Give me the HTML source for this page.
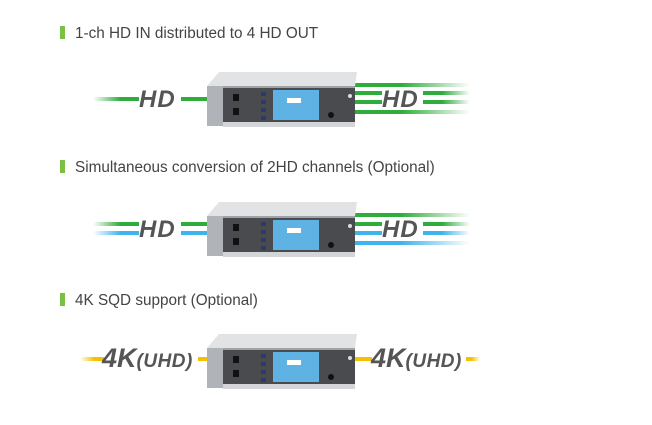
<!DOCTYPE html>
<html><head><meta charset="utf-8"><style>
html,body{margin:0;padding:0;background:#fff;width:652px;height:425px;overflow:hidden}
svg{display:block}
.h{font-family:"Liberation Sans",sans-serif;font-size:15.3px;fill:#444}
.b{font-family:"Liberation Sans",sans-serif;font-weight:bold;font-style:italic;fill:#555}
</style></head><body>
<svg width="652" height="425" viewBox="0 0 652 425">
<defs>
<linearGradient id="gl" x1="0" x2="1"><stop offset="0" stop-color="#2eac3c" stop-opacity="0"/><stop offset="0.6" stop-color="#2eac3c"/></linearGradient>
<linearGradient id="gr" x1="0" x2="1"><stop offset="0.4" stop-color="#2eac3c"/><stop offset="1" stop-color="#2eac3c" stop-opacity="0"/></linearGradient>
<linearGradient id="bl" x1="0" x2="1"><stop offset="0" stop-color="#3fb4ea" stop-opacity="0"/><stop offset="0.6" stop-color="#3fb4ea"/></linearGradient>
<linearGradient id="br" x1="0" x2="1"><stop offset="0.4" stop-color="#3fb4ea"/><stop offset="1" stop-color="#3fb4ea" stop-opacity="0"/></linearGradient>
<linearGradient id="yl" x1="0" x2="1"><stop offset="0" stop-color="#f5c000" stop-opacity="0"/><stop offset="0.6" stop-color="#f5c000"/></linearGradient>
<linearGradient id="yr" x1="0" x2="1"><stop offset="0.4" stop-color="#f5c000"/><stop offset="1" stop-color="#f5c000" stop-opacity="0"/></linearGradient>
<g id="dev">
<polygon points="0,14 12,0 150,0 148,14" fill="#e2e3e5"/>
<rect x="0" y="14" width="16" height="40" fill="#b0b3b7"/>
<rect x="16" y="14" width="132" height="40" fill="#4a4b4f"/>
<rect x="16" y="14" width="132" height="2" fill="#9fa2a6"/>
<rect x="16" y="50" width="132" height="5" fill="#d3d5d8"/>
<rect x="26" y="22" width="6" height="7" fill="#111"/>
<rect x="26" y="36" width="6" height="7" fill="#111"/>
<rect x="54" y="20" width="5" height="4" fill="#2a3a6a"/>
<rect x="54" y="28" width="5" height="4" fill="#2a3a6a"/>
<rect x="54" y="36" width="5" height="4" fill="#2a3a6a"/>
<rect x="54" y="44" width="5" height="4" fill="#2a3a6a"/>
<rect x="66" y="18" width="46" height="30" fill="#5fb3e4"/>
<rect x="80" y="26" width="14" height="5" fill="#fff"/>
<circle cx="124" cy="43" r="3" fill="#111"/>
<circle cx="143" cy="24" r="2" fill="#ddd"/>
</g>
</defs>

<rect x="60" y="26" width="5" height="13" fill="#7bc043"/>
<text class="h" x="75" y="38">1-ch HD IN distributed to 4 HD OUT</text>
<rect x="60" y="160" width="5" height="13" fill="#7bc043"/>
<text class="h" x="75" y="172">Simultaneous conversion of 2HD channels (Optional)</text>
<rect x="60" y="293" width="5" height="13" fill="#7bc043"/>
<text class="h" x="75" y="305">4K SQD support (Optional)</text>

<!-- section 1 -->
<rect x="93" y="97" width="46" height="4" fill="url(#gl)"/>
<rect x="181" y="97" width="27" height="4" fill="#2eac3c"/>
<text class="b" x="139" y="107" font-size="24" letter-spacing="1">HD</text>
<rect x="355" y="83" width="115" height="4" fill="url(#gr)"/>
<rect x="355" y="91" width="27" height="4" fill="#2eac3c"/><rect x="423" y="91" width="47" height="4" fill="url(#gr)"/>
<rect x="355" y="100" width="27" height="4" fill="#2eac3c"/><rect x="423" y="100" width="47" height="4" fill="url(#gr)"/>
<rect x="355" y="110" width="115" height="4" fill="url(#gr)"/>
<text class="b" x="382" y="107" font-size="24" letter-spacing="1">HD</text>
<use href="#dev" x="207" y="72"/>

<!-- section 2 -->
<rect x="93" y="222" width="46" height="4" fill="url(#gl)"/><rect x="181" y="222" width="27" height="4" fill="#2eac3c"/>
<rect x="93" y="231" width="46" height="4" fill="url(#bl)"/><rect x="181" y="231" width="27" height="4" fill="#3fb4ea"/>
<text class="b" x="139" y="237" font-size="24" letter-spacing="1">HD</text>
<rect x="355" y="213" width="115" height="4" fill="url(#gr)"/>
<rect x="355" y="222" width="27" height="4" fill="#2eac3c"/><rect x="423" y="222" width="47" height="4" fill="url(#gr)"/>
<rect x="355" y="231" width="27" height="4" fill="#3fb4ea"/><rect x="423" y="231" width="47" height="4" fill="url(#br)"/>
<rect x="355" y="241" width="115" height="4" fill="url(#br)"/>
<text class="b" x="382" y="237" font-size="24" letter-spacing="1">HD</text>
<use href="#dev" x="207" y="202"/>

<!-- section 3 -->
<rect x="80" y="357" width="24" height="4" fill="url(#yl)"/>
<rect x="198" y="357" width="10" height="4" fill="#f5c000"/>
<text class="b" x="102" y="367" font-size="27">4K<tspan font-size="19" letter-spacing="0.5">(UHD)</tspan></text>
<rect x="355" y="357" width="17" height="4" fill="#f5c000"/>
<rect x="466" y="357" width="14" height="4" fill="url(#yr)"/>
<text class="b" x="371" y="367" font-size="27">4K<tspan font-size="19" letter-spacing="0.5">(UHD)</tspan></text>
<use href="#dev" x="207" y="334"/>
</svg>
</body></html>
